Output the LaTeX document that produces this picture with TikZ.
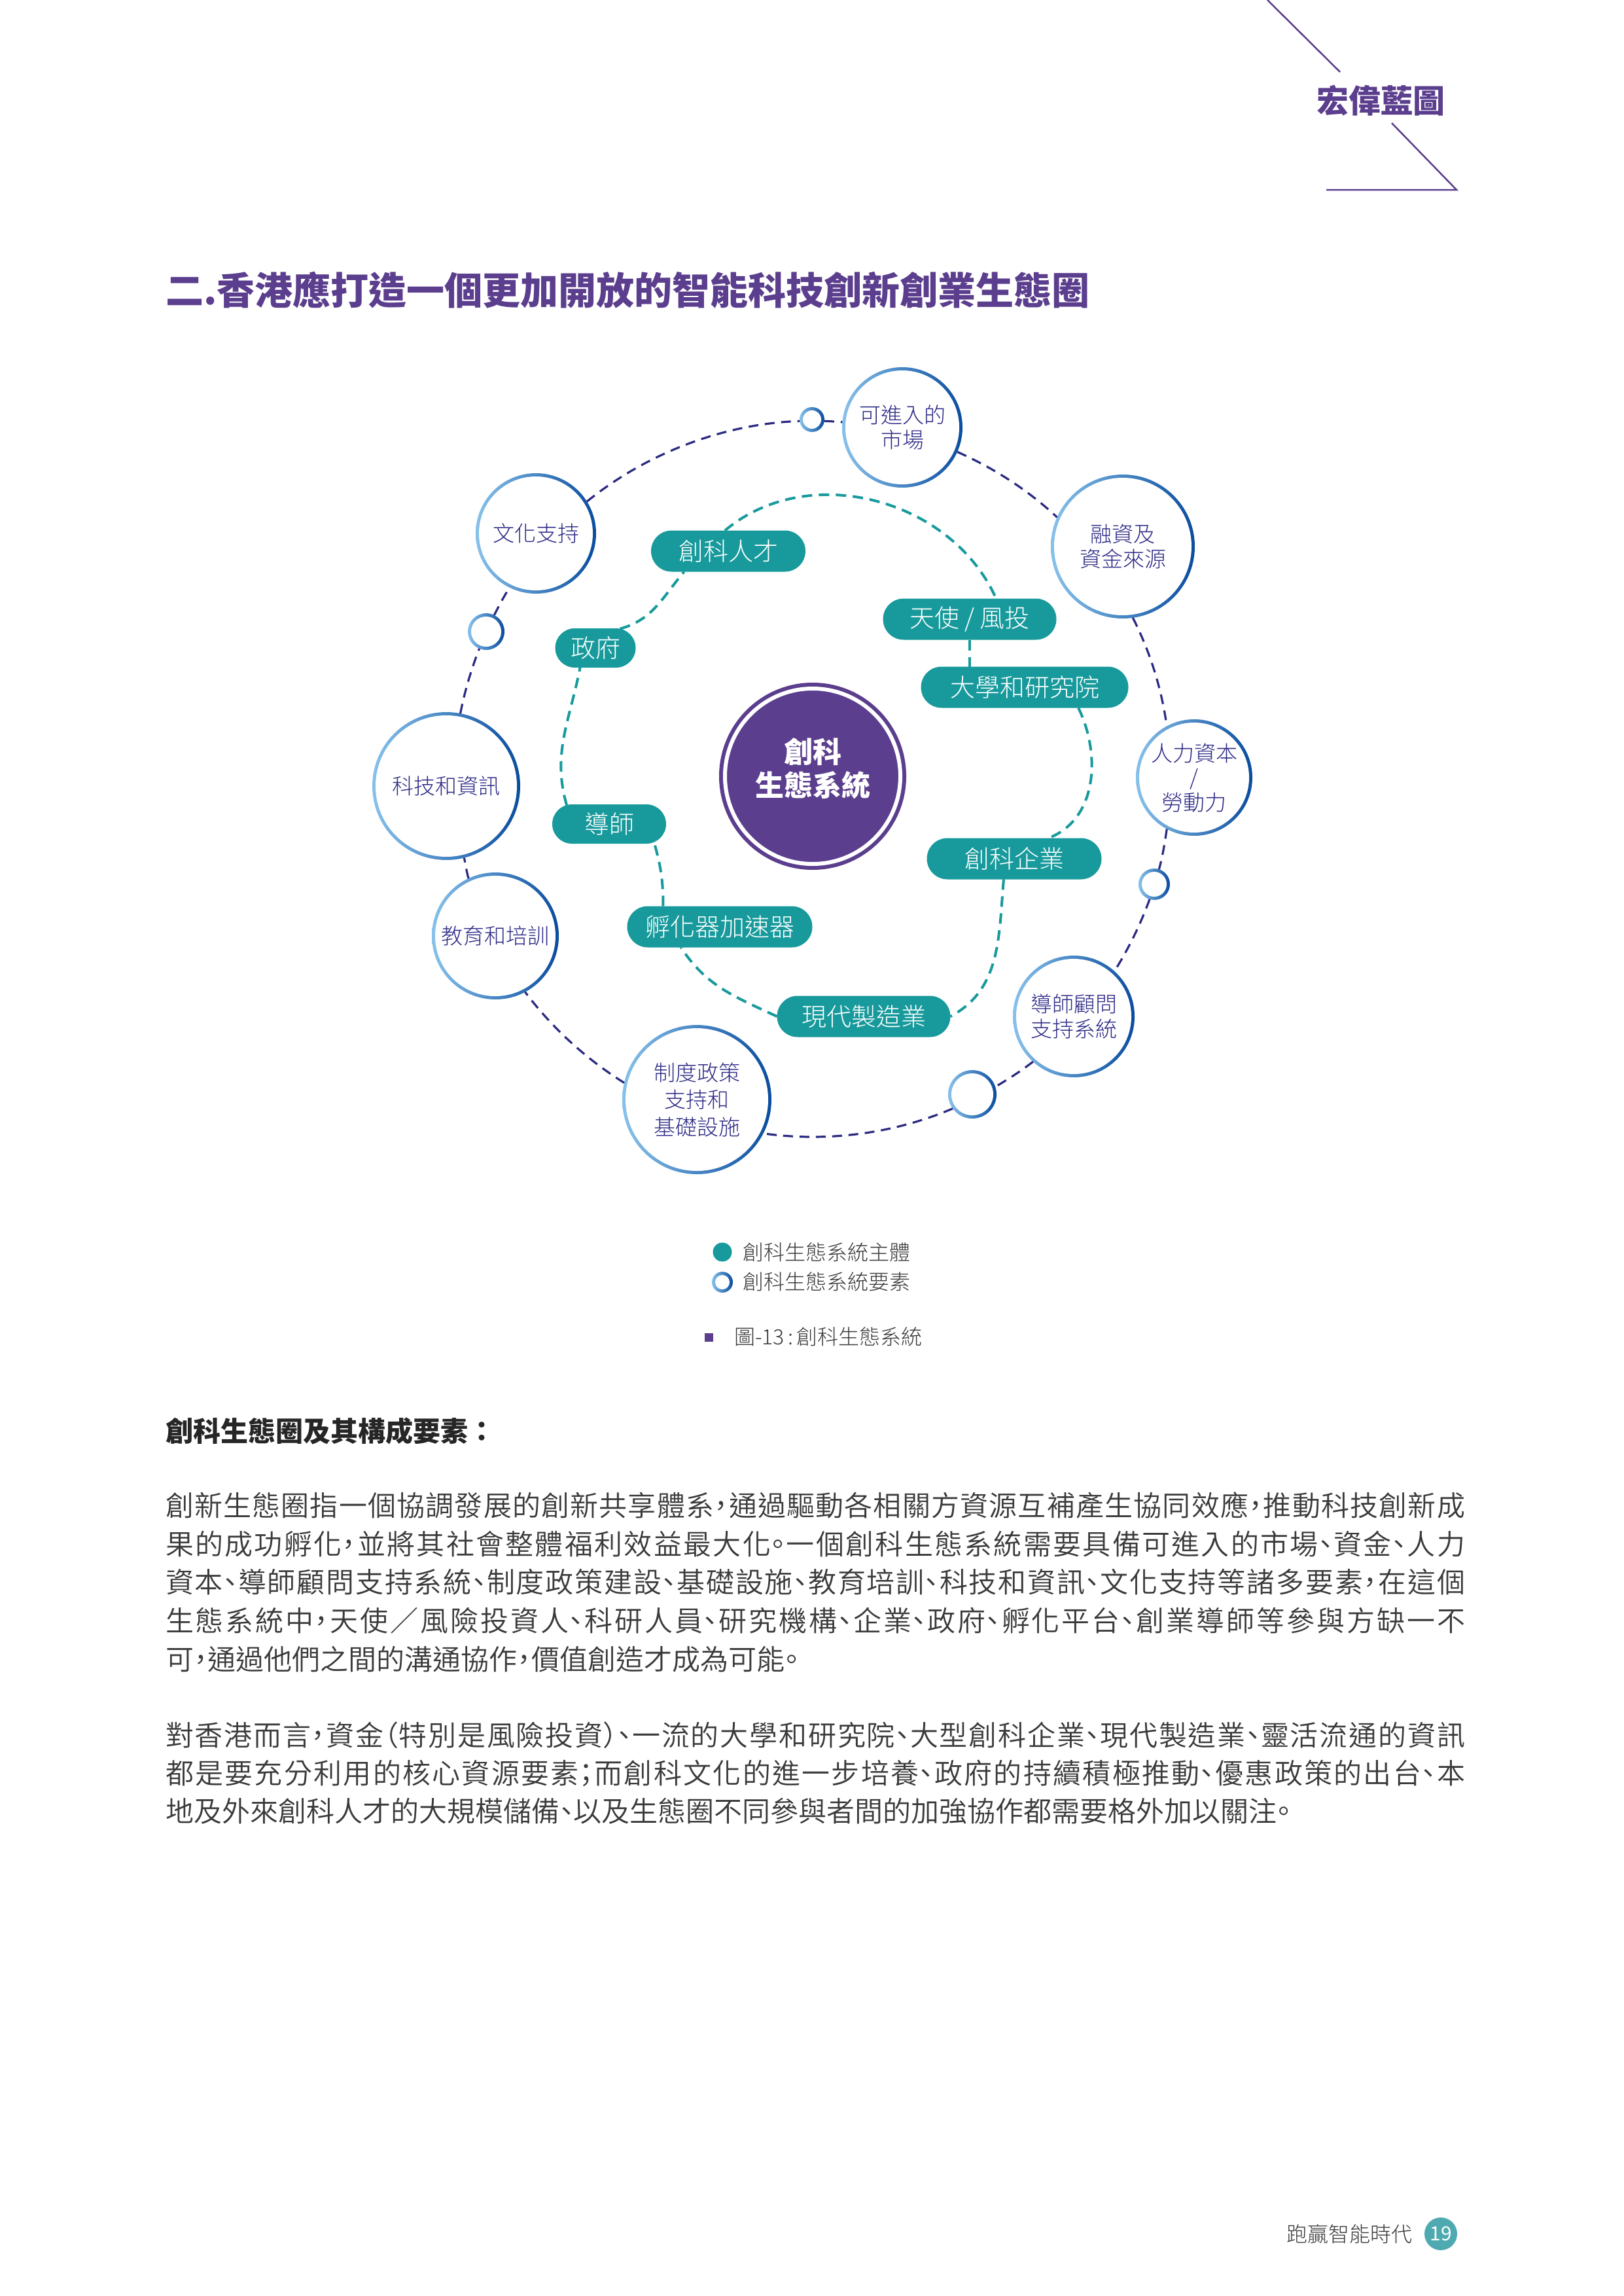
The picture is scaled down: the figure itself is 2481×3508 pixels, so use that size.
\documentclass[tikz,border=0pt]{standalone}
\usepackage{fontspec}
\usetikzlibrary{shapes.misc}
\setmainfont{Noto Sans CJK TC}
\newfontfamily\cjk{Noto Sans CJK TC}
\IfFontExistsTF{Noto Sans CJK TC Light}
  {\newfontfamily\cjklight{Noto Sans CJK TC Light}}
  {\newfontfamily\cjklight{Noto Sans CJK TC}}
\IfFontExistsTF{Noto Sans CJK TC DemiLight}
  {\newfontfamily\bodyfam{Noto Sans CJK TC DemiLight}[RawFeature=+halt]}
  {\newfontfamily\bodyfam{Noto Sans CJK TC}[RawFeature=+halt]}
\IfFontExistsTF{Noto Sans CJK TC Black}
  {\newfontfamily\cjkheavy{Noto Sans CJK TC Black}}
  {\IfFontExistsTF{Noto Sans CJK TC Bold}
     {\newfontfamily\cjkheavy{Noto Sans CJK TC Bold}[FakeBold=1.2]}
     {\def\cjkheavy{\cjk\bfseries}}}
\XeTeXlinebreaklocale "zh"
\XeTeXlinebreakskip=0pt plus 6pt

\definecolor{brandpurple}{HTML}{5B3E8D}
\definecolor{teal1}{HTML}{189A9C}
\definecolor{navy}{HTML}{2B2A82}
\definecolor{ringL}{HTML}{88C2EB}
\definecolor{ringR}{HTML}{0A4C9E}
\definecolor{circtext}{HTML}{2D2A86}
\definecolor{bodygray}{HTML}{3A3A3A}
\definecolor{footteal}{HTML}{4EA9B0}

\newcommand\circfont{\cjklight\fontsize{33}{37.5}\selectfont}
\newcommand\pillfont{\cjklight\fontsize{38}{44}\selectfont}
\newcommand\bodytext{\bodyfam\fontsize{43}{58.5}\selectfont}
\newcommand\legendfont{\cjklight\fontsize{32}{38}\selectfont}
\newcommand\fullline[1]{\parindent=0pt\parfillskip=0pt\relax #1\par}

\tikzset{
  ringnode/.style={circle, inner sep=0pt, outer sep=0pt, minimum size=#1,
    left color=ringL, right color=ringR, text=circtext, align=center, font=\circfont,
    path picture={\fill[white] (path picture bounding box.center) circle[radius=#1/2-5pt];}},
  pill/.style={rounded rectangle, fill=teal1, text=white, font=\pillfont,
    inner sep=0pt, outer sep=0pt, minimum height=63pt, minimum width=#1},
  navydash/.style={draw=navy, line width=3.2pt, dash pattern=on 15pt off 10pt, looseness=0.86},
  tealdash/.style={draw=teal1, line width=4pt, dash pattern=on 16pt off 10pt},
  bodyline/.style={anchor=base west, inner sep=0pt, outer sep=0pt, text width=1986pt,
    align=justify, font=\bodytext, text=bodygray},
  bodylast/.style={anchor=base west, inner sep=0pt, outer sep=0pt, text width=1986pt,
    align=left, font=\bodytext, text=bodygray}
}

\begin{document}
\begin{tikzpicture}[x=1pt,y=-1pt]
\useasboundingbox (0,0) rectangle (2481,3508);
\fill[white] (0,0) rectangle (2481,3508);

% header
\draw[brandpurple, line width=2.5pt] (1937,0) -- (2048,110);
\draw[brandpurple, line width=2.5pt] (2127,188) -- (2226,290) -- (2027,290);
\node[anchor=base, inner sep=0pt, text=brandpurple, font=\cjk\bfseries\fontsize{49}{58}\selectfont] (brand) at (2110,173) {宏偉藍圖};

% title
\node[anchor=base west, inner sep=0pt, text=brandpurple, font=\cjkheavy\fontsize{58}{70}\selectfont] (title) at (253,465) {二.香港應打造一個更加開放的智能科技創新創業生態圈};

% outer ring elements
\node[ringnode=38pt]  (s1) at (1241,641) {};
\node[ringnode=184pt] (M)  at (1379,653) {可進入的\\市場};
\node[ringnode=220pt] (F)  at (1716,835) {融資及\\資金來源};
\node[ringnode=178pt] (H)  at (1825,1188) {人力資本\\/\\勞動力};
\node[ringnode=48pt]  (s2) at (1764,1351) {};
\node[ringnode=186pt] (T)  at (1641,1553) {導師顧問\\支持系統};
\node[ringnode=74pt]  (s3) at (1486,1672) {};
\node[ringnode=228pt, font=\cjklight\fontsize{33}{41.5}\selectfont] (P) at (1065,1680) {制度政策\\支持和\\基礎設施};
\node[ringnode=194pt] (E)  at (757,1430) {教育和培訓};
\node[ringnode=226pt] (K)  at (682,1201) {科技和資訊};
\node[ringnode=56pt]  (s4) at (743,965) {};
\node[ringnode=184pt] (C)  at (819,815) {文化支持};

\draw[navydash] (s1.-7)   to[out=-2,in=175]   (M.175);
\draw[navydash] (M.-24)   to[out=-24,in=137]  (F.156);
\draw[navydash] (F.-82)   to[out=-63,in=98]   (H.118);
\draw[navydash] (H.-118)  to[out=-98,in=75]   (s2.72);
\draw[navydash] (s2.-107) to[out=-110,in=58]  (T.48);
\draw[navydash] (T.-132)  to[out=-142,in=31]  (s3.18);
\draw[navydash] (s3.-144) to[out=-157,in=-8]  (P.-27);
\draw[navydash] (P.167)   to[out=148,in=-53]  (E.-62);
\draw[navydash] (E.115)   to[out=106,in=-77]  (K.-76);
\draw[navydash] (K.79)    to[out=79,in=-111]  (s4.-112);
\draw[navydash] (s4.64)   to[out=63,in=-122]  (C.-116);
\draw[navydash] (C.32)    to[out=39,in=182]   (s1.187);

% core
\node[circle, fill=brandpurple, draw=brandpurple, line width=6pt, double=white, double distance=6pt,
      minimum size=268pt, inner sep=0pt, outer sep=0pt] (core) at (1242,1186) {};
\node[text=white, align=center, inner sep=0pt, font=\cjk\bfseries\fontsize{44}{51}\selectfont] (coretext) at (1242,1174) {創科\\生態系統};

% inner pills
\node[pill=236pt] (R1) at (1113,842) {創科人才};
\node[pill=265pt] (A)  at (1482,946) {天使 / 風投};
\node[pill=317pt] (U)  at (1566,1050) {大學和研究院};
\node[pill=267pt] (Q)  at (1550,1312) {創科企業};
\node[pill=265pt] (X)  at (1320,1553) {現代製造業};
\node[pill=283pt] (I)  at (1100,1416) {孵化器加速器};
\node[pill=174pt, minimum height=60pt] (D) at (931,1259) {導師};
\node[pill=123pt, minimum height=60pt] (G) at (910,990) {政府};

\draw[tealdash] (R1.99)  to[out=40,in=114]   (A.38);
\draw[tealdash] (A.south) -- (A.south |- U.north);
\draw[tealdash] (U.-21)  to[out=-64,in=21]   (Q.31);
\draw[tealdash] (Q.-117) to[out=-95,in=28]   (X.east);
\draw[tealdash] (X.west) to[out=155,in=-57]  (I.-152);
\draw[tealdash] (I.160)  to[out=90,in=-74]   (D.-22);
\draw[tealdash] (D.156)  to[out=106,in=-101] (G.-128);
\draw[tealdash] (G.38)   to[out=15,in=-130]  (R1.-155);

% legend
\node[circle, fill=teal1, minimum size=29pt, inner sep=0pt] (legdot) at (1104,1913) {};
\node[anchor=base west, inner sep=0pt, text=bodygray, font=\legendfont] (legtxtA) at (1135,1925) {創科生態系統主體};
\node[ringnode=32pt] (legring) at (1104,1959) {};
\node[anchor=base west, inner sep=0pt, text=bodygray, font=\legendfont] (legtxtB) at (1135,1970) {創科生態系統要素};
\node[fill=brandpurple, minimum size=13pt, inner sep=0pt] (capsq) at (1083,2043) {};
\node[anchor=base west, inner sep=0pt, text=bodygray, font=\legendfont] (caption) at (1122,2054) {圖-13\,:\,創科生態系統};

% heading
\node[anchor=base west, inner sep=0pt, text=black!85, font=\cjk\bfseries\fontsize{42}{50}\selectfont] (head) at (253,2202) {創科生態圈及其構成要素：};

% paragraph 1
\node[bodyline] (p1a) at (253,2316) {\fullline{創新生態圈指一個協調發展的創新共享體系，通過驅動各相關方資源互補產生協同效應，推動科技創新成}};
\node[bodyline] (p1b) at (253,2375) {\fullline{果的成功孵化，並將其社會整體福利效益最大化。一個創科生態系統需要具備可進入的市場、資金、人力}};
\node[bodyline] (p1c) at (253,2433) {\fullline{資本、導師顧問支持系統、制度政策建設、基礎設施、教育培訓、科技和資訊、文化支持等諸多要素，在這個}};
\node[bodyline] (p1d) at (253,2492) {\fullline{生態系統中，天使／風險投資人、科研人員、研究機構、企業、政府、孵化平台、創業導師等參與方缺一不}};
\node[bodylast] (p1e) at (253,2551) {可，通過他們之間的溝通協作，價值創造才成為可能。};

% paragraph 2
\node[bodyline] (p2a) at (253,2667) {\fullline{對香港而言，資金（特別是風險投資）、一流的大學和研究院、大型創科企業、現代製造業、靈活流通的資訊}};
\node[bodyline] (p2b) at (253,2725) {\fullline{都是要充分利用的核心資源要素；而創科文化的進一步培養、政府的持續積極推動、優惠政策的出台、本}};
\node[bodylast] (p2c) at (253,2783) {地及外來創科人才的大規模儲備、以及生態圈不同參與者間的加強協作都需要格外加以關注。};

% footer
\node[anchor=base east, inner sep=0pt, text=bodygray, font=\legendfont] (foot) at (2159,3425) {跑贏智能時代};
\node[circle, fill=footteal, minimum size=50pt, inner sep=0pt, text=white, font=\cjk\fontsize{30}{34}\selectfont] (pagenum) at (2202,3413) {19};
\end{tikzpicture}
\end{document}
